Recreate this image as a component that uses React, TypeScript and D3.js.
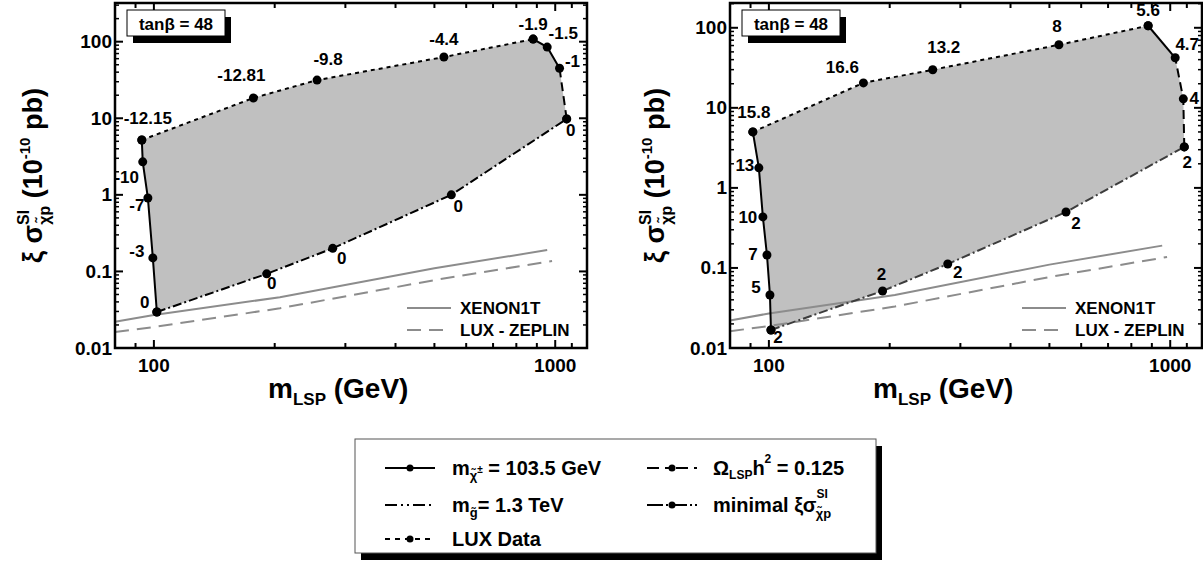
import React from 'react';
import * as d3 from 'd3';

const FONT = '"Liberation Sans", Arial, Helvetica, sans-serif';

// left panel: labels are the A0-type parameter along each boundary
const leftCharginoMass = [93.3, 93.8, 96.6, 99.4, 101.7];
const leftCharginoSigma = [5.2, 2.7, 0.91, 0.15, 0.0295];
const leftCharginoLabels = ['-12.15', '-10', '-7', '-3', '0'];

const leftLuxMass = [93.3, 177, 255, 528, 881];
const leftLuxSigma = [5.2, 18.4, 31.5, 63, 108];
const leftLuxLabels = ['', '-12.81', '-9.8', '-4.4', '-1.9'];

const leftRelicMass = [1068, 1025, 955, 881];
const leftRelicSigma = [9.8, 45, 85, 108];
const leftRelicLabels = ['0', '-1', '-1.5', ''];

const leftGluinoMass = [101.7, 191, 279, 551, 1068];
const leftGluinoSigma = [0.0295, 0.093, 0.2, 1.0, 9.8];
const leftGluinoLabels = ['', '0', '0', '0', ''];

// right panel
const rightCharginoMass = [91.2, 94.4, 96.6, 98.9, 100.6, 101.2];
const rightCharginoSigma = [5.0, 1.78, 0.434, 0.145, 0.046, 0.0168];
const rightCharginoLabels = ['15.8', '13', '10', '7', '5', '2'];

const rightLuxMass = [91.2, 172, 256, 528, 881];
const rightLuxSigma = [5.0, 20.5, 29.9, 61.3, 106];
const rightLuxLabels = ['', '16.6', '13.2', '8', '5.6'];

const rightRelicMass = [1084, 1078, 1029, 881];
const rightRelicSigma = [3.25, 12.96, 42.2, 106];
const rightRelicLabels = ['2', '4', '4.7', ''];

const rightMinimalMass = [101.2, 192, 279, 550, 1084];
const rightMinimalSigma = [0.0168, 0.0516, 0.112, 0.5, 3.25];
const rightMinimalLabels = ['', '2', '2', '2', ''];

// experimental limits (same in both panels)
const xenonMass = [80, 100, 206, 500, 955];
const xenonSigma = [0.022, 0.027, 0.046, 0.11, 0.19];
const lzMass = [80, 100, 206, 500, 982];
const lzSigma = [0.0162, 0.0188, 0.033, 0.077, 0.137];

const xMajor = [100, 1000];
const xMajorLabels = ['100', '1000'];
const xMinor = [90, 200, 300, 400, 500, 600, 700, 800, 900, 1100];
const yMajor = [0.01, 0.1, 1, 10, 100];
const yMajorLabels = ['0.01', '0.1', '1', '10', '100'];

type Off = [number, number][];

const leftOffsets = {
  chargino: [[6, -22], [-16, 16], [-11, 8], [-16, -6], [-12, -10]] as Off,
  lux: [[0, 0], [-12, -22], [11, -21], [0, -18], [0, -15]] as Off,
  relic: [[4, 12], [13, -7], [16, -14], [0, 0]] as Off,
  bottom: [[0, 0], [5, 10], [9, 10], [7, 12], [0, 0]] as Off,
};
const rightOffsets = {
  chargino: [[1, -19], [-14, -2], [-15, 1], [-14, -1], [-14, -7], [7, 8]] as Off,
  lux: [[0, 0], [-21, -15], [11, -22], [-2, -18], [0, -15]] as Off,
  relic: [[3, 16], [11, 0], [12, -13], [0, 0]] as Off,
  bottom: [[0, 0], [-1, -16], [10, 8], [10, 12], [0, 0]] as Off,
};

const GRAY_LIM = '#8c8c8c';
const LZ_DASH = '14,8';
const DASH_DOT = '9,3,2,3';

function Panel(p: any) {
  const { x0, y0, w, h, yMax } = p;
  const xs = d3.scaleLog().domain([80, 1200]).range([x0, x0 + w]);
  const ys = d3.scaleLog().domain([0.01, yMax]).range([y0 + h, y0]);
  const pts = (m: number[], s: number[]) => m.map((v, i) => [xs(v), ys(s[i])] as [number, number]);
  const line = d3.line();

  const ch = pts(p.chMass, p.chSigma);
  const lx = pts(p.luxMass, p.luxSigma);
  const rl = pts(p.relicMass, p.relicSigma);
  const bt = pts(p.botMass, p.botSigma);
  const region = [...ch, ...bt, ...rl, ...lx.slice().reverse()];

  const yMinor: number[] = [];
  yMajor.forEach((d) => {
    for (let k = 2; k <= 9; k++) if (d * k < yMax) yMinor.push(d * k);
  });

  const labels = (ps: [number, number][], txt: string[], off: Off) =>
    ps.map((q, i) =>
      txt[i] ? (
        <text key={i} x={q[0] + off[i][0]} y={q[1] + off[i][1]} textAnchor="middle" dominantBaseline="central"
          fontSize={17} fontWeight="bold" fontFamily={FONT}>{txt[i]}</text>
      ) : null
    );
  const dots = (ps: [number, number][]) => ps.map((q, i) => <circle key={i} cx={q[0]} cy={q[1]} r={4.5} fill="#000" />);

  const right = x0 + w;
  const bottom = y0 + h;

  return (
    <g>
      <path d={line(region) + 'Z'} fill="#c0c0c0" />
      <path d={line(pts(xenonMass, xenonSigma)) || ''} fill="none" stroke={GRAY_LIM} strokeWidth={2} />
      <path d={line(pts(lzMass, lzSigma)) || ''} fill="none" stroke={GRAY_LIM} strokeWidth={2} strokeDasharray={LZ_DASH} />

      <path d={line(ch) || ''} fill="none" stroke="#000" strokeWidth={2} />
      <path d={line(lx) || ''} fill="none" stroke="#000" strokeWidth={2} strokeDasharray="4,4" />
      <path d={line(rl.slice(0, p.relicSolidFrom + 1)) || ''} fill="none" stroke="#000" strokeWidth={2} strokeDasharray="9,5" />
      <path d={line(rl.slice(p.relicSolidFrom)) || ''} fill="none" stroke="#000" strokeWidth={2} />
      <path d={line(bt) || ''} fill="none" stroke={p.botColor} strokeWidth={2} strokeDasharray={DASH_DOT} />

      {dots(ch)}{dots(lx)}{dots(rl)}{dots(bt)}
      {labels(ch, p.chLabels, p.off.chargino)}
      {labels(lx, p.luxLabels, p.off.lux)}
      {labels(rl, p.relicLabels, p.off.relic)}
      {labels(bt, p.botLabels, p.off.bottom)}

      {/* ticks, inward on all four sides */}
      {xMajor.map((v) => (
        <g key={'xM' + v}>
          <line x1={xs(v)} x2={xs(v)} y1={bottom} y2={bottom - 8} stroke="#000" strokeWidth={2} />
          <line x1={xs(v)} x2={xs(v)} y1={y0} y2={y0 + 8} stroke="#000" strokeWidth={2} />
        </g>
      ))}
      {xMinor.map((v) => (
        <g key={'xm' + v}>
          <line x1={xs(v)} x2={xs(v)} y1={bottom} y2={bottom - 5} stroke="#000" strokeWidth={2} />
          <line x1={xs(v)} x2={xs(v)} y1={y0} y2={y0 + 5} stroke="#000" strokeWidth={2} />
        </g>
      ))}
      {yMajor.map((v) => (
        <g key={'yM' + v}>
          <line x1={x0} x2={x0 + 8} y1={ys(v)} y2={ys(v)} stroke="#000" strokeWidth={2} />
          <line x1={right} x2={right - 8} y1={ys(v)} y2={ys(v)} stroke="#000" strokeWidth={2} />
        </g>
      ))}
      {yMinor.map((v) => (
        <g key={'ym' + v}>
          <line x1={x0} x2={x0 + 4} y1={ys(v)} y2={ys(v)} stroke="#000" strokeWidth={1.5} />
          <line x1={right} x2={right - 4} y1={ys(v)} y2={ys(v)} stroke="#000" strokeWidth={1.5} />
        </g>
      ))}
      <rect x={x0} y={y0} width={w} height={h} fill="none" stroke="#000" strokeWidth={2.5} />

      {yMajor.map((v, i) => (
        <text key={'yl' + v} x={x0 - 3} y={ys(v)} textAnchor="end" dominantBaseline="central"
          fontSize={19} fontWeight="bold" fontFamily={FONT}>{yMajorLabels[i]}</text>
      ))}
      {xMajor.map((v, i) => (
        <text key={'xl' + v} x={xs(v)} y={bottom + 24} textAnchor="middle"
          fontSize={19} fontWeight="bold" fontFamily={FONT}>{xMajorLabels[i]}</text>
      ))}

      {/* tanβ box */}
      <rect x={x0 + 18} y={y0 + 14} width={98} height={26} fill="#000" />
      <rect x={x0 + 12} y={y0 + 7} width={98} height={26} fill="#fff" stroke="#000" strokeWidth={1} />
      <text x={x0 + 61} y={y0 + 21} textAnchor="middle" dominantBaseline="central" fontSize={17}
        fontWeight="bold" fontFamily={FONT}>tanβ = 48</text>

      {/* limits legend */}
      <line x1={right - 180} x2={right - 136} y1={bottom - 40} y2={bottom - 40} stroke={GRAY_LIM} strokeWidth={2} />
      <line x1={right - 180} x2={right - 136} y1={bottom - 18} y2={bottom - 18} stroke={GRAY_LIM} strokeWidth={2} strokeDasharray={LZ_DASH} />
      <text x={right - 127} y={bottom - 40} dominantBaseline="central" fontSize={17} fontWeight="bold" fontFamily={FONT}>XENON1T</text>
      <text x={right - 127} y={bottom - 18} dominantBaseline="central" fontSize={17} fontWeight="bold" fontFamily={FONT}>LUX - ZEPLIN</text>

      {/* axis titles */}
      <text x={p.xTitleX} y={bottom + 50} fontSize={28} fontWeight="bold" fontFamily={FONT}>
        m<tspan fontSize={17} dy={7}>LSP</tspan><tspan dy={-7}>{'\u00a0(GeV)'}</tspan>
      </text>
      <text transform={`translate(${p.yTitleX},${y0 + h / 2}) rotate(-90)`} textAnchor="middle" fontSize={27}
        fontWeight="bold" fontFamily={FONT}>
        {'ξ σ'}
        <tspan fontSize={16} dy={-13}>SI</tspan>
        <tspan fontSize={16} dx={-15} dy={21}>{'χ̃p'}</tspan>
        <tspan dy={-8}>{'\u00a0(10'}</tspan>
        <tspan fontSize={15} dy={-12}>-10</tspan>
        <tspan dy={12}>{'\u00a0pb)'}</tspan>
      </text>
    </g>
  );
}

function Sample({ x, y, dash, dot }: any) {
  return (
    <g>
      <line x1={x} x2={x + 50} y1={y} y2={y} stroke="#000" strokeWidth={2} strokeDasharray={dash} />
      {dot && <circle cx={x + 25} cy={y} r={3.5} fill="#000" />}
    </g>
  );
}

export default function App() {
  const lx = 385, rx = 647, tl = 452, tr = 713;
  const r1 = 468, r2 = 505, r3 = 539;
  return (
    <svg width={1203} height={571} style={{ position: 'absolute', left: 0, top: 0, background: '#fff' }}>
      <Panel x0={115} y0={3} w={472} h={345} yMax={320}
        chMass={leftCharginoMass} chSigma={leftCharginoSigma} chLabels={leftCharginoLabels}
        luxMass={leftLuxMass} luxSigma={leftLuxSigma} luxLabels={leftLuxLabels}
        relicMass={leftRelicMass} relicSigma={leftRelicSigma} relicLabels={leftRelicLabels} relicSolidFrom={1}
        botMass={leftGluinoMass} botSigma={leftGluinoSigma} botLabels={leftGluinoLabels} botColor="#000"
        off={leftOffsets} xTitleX={268} yTitleX={42} />
      <Panel x0={730} y0={3} w={472} h={345} yMax={204}
        chMass={rightCharginoMass} chSigma={rightCharginoSigma} chLabels={rightCharginoLabels}
        luxMass={rightLuxMass} luxSigma={rightLuxSigma} luxLabels={rightLuxLabels}
        relicMass={rightRelicMass} relicSigma={rightRelicSigma} relicLabels={rightRelicLabels} relicSolidFrom={2}
        botMass={rightMinimalMass} botSigma={rightMinimalSigma} botLabels={rightMinimalLabels} botColor="#3c3c3c"
        off={rightOffsets} xTitleX={873} yTitleX={664} />

      {/* bottom legend */}
      <rect x={361} y={446} width={521} height={114} fill="#000" />
      <rect x={355} y={439} width={521} height={114} fill="#fff" stroke="#555" strokeWidth={1} />
      <g fontFamily={FONT} fontWeight="bold" fontSize={20}>
        <Sample x={lx} y={r1} dash="" dot />
        <text x={tl} y={r1} dominantBaseline="central">
          m<tspan fontSize={13} dy={7}>{'χ̃'}</tspan><tspan fontSize={10} dy={-6}>±</tspan>
          <tspan dy={-1}>{'\u00a0= 103.5 GeV'}</tspan>
        </text>
        <Sample x={lx} y={r2} dash="12,4,2,4,2,4" />
        <text x={tl} y={r2} dominantBaseline="central">
          m<tspan fontSize={13} dy={7}>{'g̃'}</tspan><tspan dy={-7}>= 1.3 TeV</tspan>
        </text>
        <Sample x={lx} y={r3} dash="5,5" dot />
        <text x={tl} y={r3} dominantBaseline="central">LUX Data</text>

        <Sample x={rx} y={r1} dash="12,6,5,6" dot />
        <text x={tr} y={r1} dominantBaseline="central">
          Ω<tspan fontSize={12} dy={7}>LSP</tspan><tspan dy={-7}>h</tspan><tspan fontSize={12} dy={-9}>2</tspan>
          <tspan dy={9}>{'\u00a0= 0.125'}</tspan>
        </text>
        <Sample x={rx} y={r2} dash="16,3,2,3" dot />
        <text x={tr} y={r2} dominantBaseline="central">
          {'minimal ξσ'}
          <tspan fontSize={12} dy={-11}>SI</tspan>
          <tspan fontSize={13} dx={-12} dy={19}>{'χ̃p'}</tspan>
        </text>
      </g>
    </svg>
  );
}
